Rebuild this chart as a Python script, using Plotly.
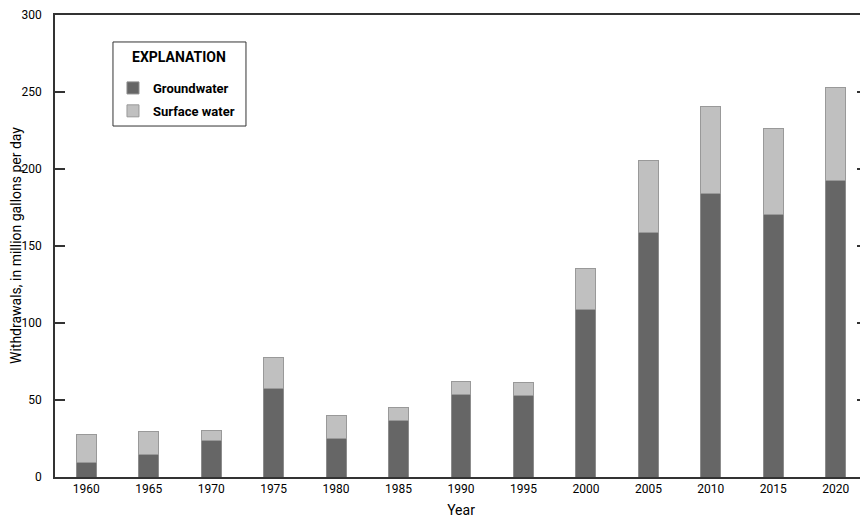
import plotly.graph_objects as go

# Withdrawals by year, million gallons per day
years = ['1960', '1965', '1970', '1975', '1980', '1985', '1990',
         '1995', '2000', '2005', '2010', '2015', '2020']
groundwater = [9.5, 14.7, 24.0, 57.4, 25.3, 36.8, 53.8,
               52.8, 108.7, 158.9, 183.8, 170.2, 192.8]
total = [27.4, 29.6, 30.4, 77.9, 39.8, 45.1, 61.7,
         61.3, 135.1, 205.3, 240.4, 226.4, 253.2]
surface_water = [round(t - g, 1) for t, g in zip(total, groundwater)]

y_ticks = [0, 50, 100, 150, 200, 250, 300]

font_family = 'Roboto, Liberation Sans, sans-serif'

fig = go.Figure()

fig.add_trace(go.Bar(x=years, y=groundwater, name='<b>Groundwater</b>',
                     legendgroup='gw',
                     marker=dict(color='#666666', line=dict(color='#8c8c8c', width=1)),
                     width=0.32))
fig.add_trace(go.Bar(x=years, y=surface_water, name='<b>Surface water</b>',
                     legendgroup='sw',
                     marker=dict(color='#c0c0c0', line=dict(color='#999999', width=1)),
                     width=0.32))

# page body has an 8px margin, so the figure is a bit smaller than the window
fig.update_layout(
    barmode='stack',
    width=860, height=512,
    margin=dict(l=47, r=1, t=7, b=43, autoexpand=False),
    plot_bgcolor='white',
    paper_bgcolor='white',
    font=dict(family=font_family, size=12, color='black'),
    showlegend=True,
    legend=dict(
        x=0.0714, y=0.8745, xanchor='left', yanchor='top',
        borderwidth=0,
        bgcolor='rgba(0,0,0,0)',
        font=dict(size=13),
        traceorder='grouped',
        tracegroupgap=3,
        itemwidth=30,
    ),
)

# box and heading of the explanation (legend)
fig.add_shape(type='rect', xref='paper', yref='paper',
              x0=0.0714, x1=0.2352, y0=0.7597, y1=0.9416,
              line=dict(color='#333333', width=1), layer='below')
fig.add_annotation(text='<b>EXPLANATION</b>', xref='paper', yref='paper',
                   x=0.1533, y=0.909, showarrow=False,
                   xanchor='center', yanchor='middle', font=dict(size=14))

# y axis title as a rotated annotation, left of the tick labels
fig.add_annotation(text='Withdrawals, in million gallons per day',
                   xref='paper', yref='paper', x=-0.048, y=0.5,
                   textangle=-90, showarrow=False,
                   xanchor='center', yanchor='middle', font=dict(size=14))

fig.update_xaxes(
    type='category',
    range=[-0.5, 12.5],
    showline=True, linecolor='#333333', linewidth=1.5,
    mirror=True,
    ticks='', showgrid=False,
    automargin=False,
    title=dict(text='Year', font=dict(size=14), standoff=10),
    tickfont=dict(size=12),
)
fig.update_yaxes(
    range=[0, 300],
    tickvals=y_ticks,
    showline=True, linecolor='#333333', linewidth=1.5,
    mirror='ticks',
    ticks='inside', ticklen=10, tickcolor='#333333', tickwidth=1.5,
    ticklabelstandoff=9,
    showgrid=False, zeroline=False,
    automargin=False,
    tickfont=dict(size=12),
)

fig.write_html("out.html")
